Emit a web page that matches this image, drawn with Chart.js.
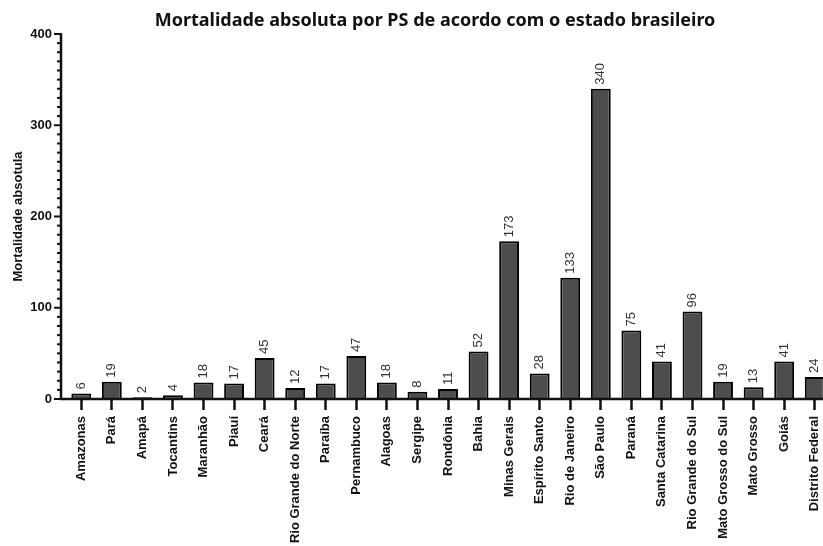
<!DOCTYPE html>
<html>
<head>
<meta charset="utf-8">
<script src="https://cdn.jsdelivr.net/npm/chart.js@4/dist/chart.umd.min.js"></script>
<style>
  html, body { margin: 0; padding: 0; overflow: hidden; background: #fff; }
  #wrap { width: 830px; height: 546px; }
</style>
</head>
<body>
<div id="wrap"><canvas id="mortalidade" width="830" height="546"></canvas></div>
<script>
  const estados = [
    "Amazonas", "Pará", "Amapá", "Tocantins", "Maranhão", "Piauí", "Ceará",
    "Rio Grande do Norte", "Paraíba", "Pernambuco", "Alagoas", "Sergipe",
    "Rondônia", "Bahia", "Minas Gerais", "Espírito Santo", "Rio de Janeiro",
    "São Paulo", "Paraná", "Santa Catarina", "Rio Grande do Sul",
    "Mato Grosso do Sul", "Mato Grosso", "Goiás", "Distrito Federal"
  ];
  const obitos = [6, 19, 2, 4, 18, 17, 45, 12, 17, 47, 18, 8, 11, 52, 173, 28, 133, 340, 75, 41, 96, 19, 13, 41, 24];
  const yMajor = [0, 100, 200, 300, 400];
  const yMinorStep = 10;
  const titulo = "Mortalidade absoluta por PS de acordo com o estado brasileiro";

  const arial = "'Liberation Sans', Arial, sans-serif";

  // eixos no estilo GraphPad, rótulos de valor e título
  const prismPlugin = {
    id: "prism",
    afterDatasetsDraw(chart) {
      const { ctx, scales: { x, y } } = chart;
      const axisX = chart.chartArea.left - 5;
      const y0 = y.getPixelForValue(0);
      ctx.save();
      ctx.strokeStyle = "#111";
      ctx.lineCap = "butt";

      // eixo x
      ctx.lineWidth = 2.5;
      ctx.beginPath();
      ctx.moveTo(axisX - 1, y0);
      ctx.lineTo(chart.width, y0);
      ctx.stroke();

      // eixo y
      ctx.beginPath();
      ctx.moveTo(axisX, y0 + 1);
      ctx.lineTo(axisX, y.getPixelForValue(400) - 1);
      ctx.stroke();

      // marcas menores e maiores
      ctx.lineWidth = 2;
      for (let v = 0; v <= 400; v += yMinorStep) {
        const py = y.getPixelForValue(v);
        const len = yMajor.includes(v) ? 7 : 4;
        ctx.beginPath();
        ctx.moveTo(axisX - len, py);
        ctx.lineTo(axisX, py);
        ctx.stroke();
      }

      // rótulos de valor
      ctx.fillStyle = "#333";
      ctx.font = "13px " + arial;
      ctx.textAlign = "left";
      ctx.textBaseline = "middle";
      chart.getDatasetMeta(0).data.forEach((bar, i) => {
        ctx.save();
        ctx.translate(bar.x, bar.y - 4);
        ctx.rotate(-Math.PI / 2);
        ctx.fillText(String(obitos[i]), 0, 0);
        ctx.restore();
      });

      // título
      ctx.fillStyle = "#111";
      ctx.font = "bold 18px 'Noto Sans', sans-serif";
      ctx.textAlign = "center";
      ctx.fillText(titulo, 435, 21);
      ctx.restore();
    }
  };

  const ctx = document.getElementById("mortalidade").getContext("2d");
  new Chart(ctx, {
    type: "bar",
    data: {
      labels: estados,
      datasets: [{
        data: obitos,
        backgroundColor: "#4d4d4d",
        borderColor: "#000",
        borderWidth: 2,
        barPercentage: 0.65,
        categoryPercentage: 1
      }]
    },
    options: {
      responsive: false,
      animation: false,
      devicePixelRatio: 1,
      layout: { padding: { top: 34, left: 0, right: 0, bottom: 0 } },
      plugins: {
        legend: { display: false },
        tooltip: { enabled: false }
      },
      scales: {
        x: {
          offset: true,
          border: { display: false },
          grid: {
            display: true,
            drawOnChartArea: false,
            offset: false,
            tickLength: 11,
            tickWidth: 2.5,
            tickColor: "#111"
          },
          ticks: {
            autoSkip: false,
            minRotation: 90,
            maxRotation: 90,
            padding: 6,
            color: "#111",
            font: { family: arial, size: 13, weight: "bold" }
          },
          afterFit: (s) => {
            s.height = 147;
            s.paddingLeft = 0;
            s.paddingRight = 0;
          }
        },
        y: {
          min: 0,
          max: 400,
          border: { display: false },
          grid: { display: false, drawTicks: false },
          ticks: {
            stepSize: 100,
            padding: 14,
            color: "#111",
            font: { family: arial, size: 13, weight: "bold" }
          },
          title: {
            display: true,
            text: "Mortalidade absotula",
            color: "#111",
            padding: { top: 11, bottom: 0 },
            font: { family: arial, size: 13, weight: "bold" }
          },
          afterFit: (s) => {
            s.width = 66;
            s.paddingTop = 0;
            s.paddingBottom = 0;
          }
        }
      }
    },
    plugins: [prismPlugin]
  });
</script>
</body>
</html>
